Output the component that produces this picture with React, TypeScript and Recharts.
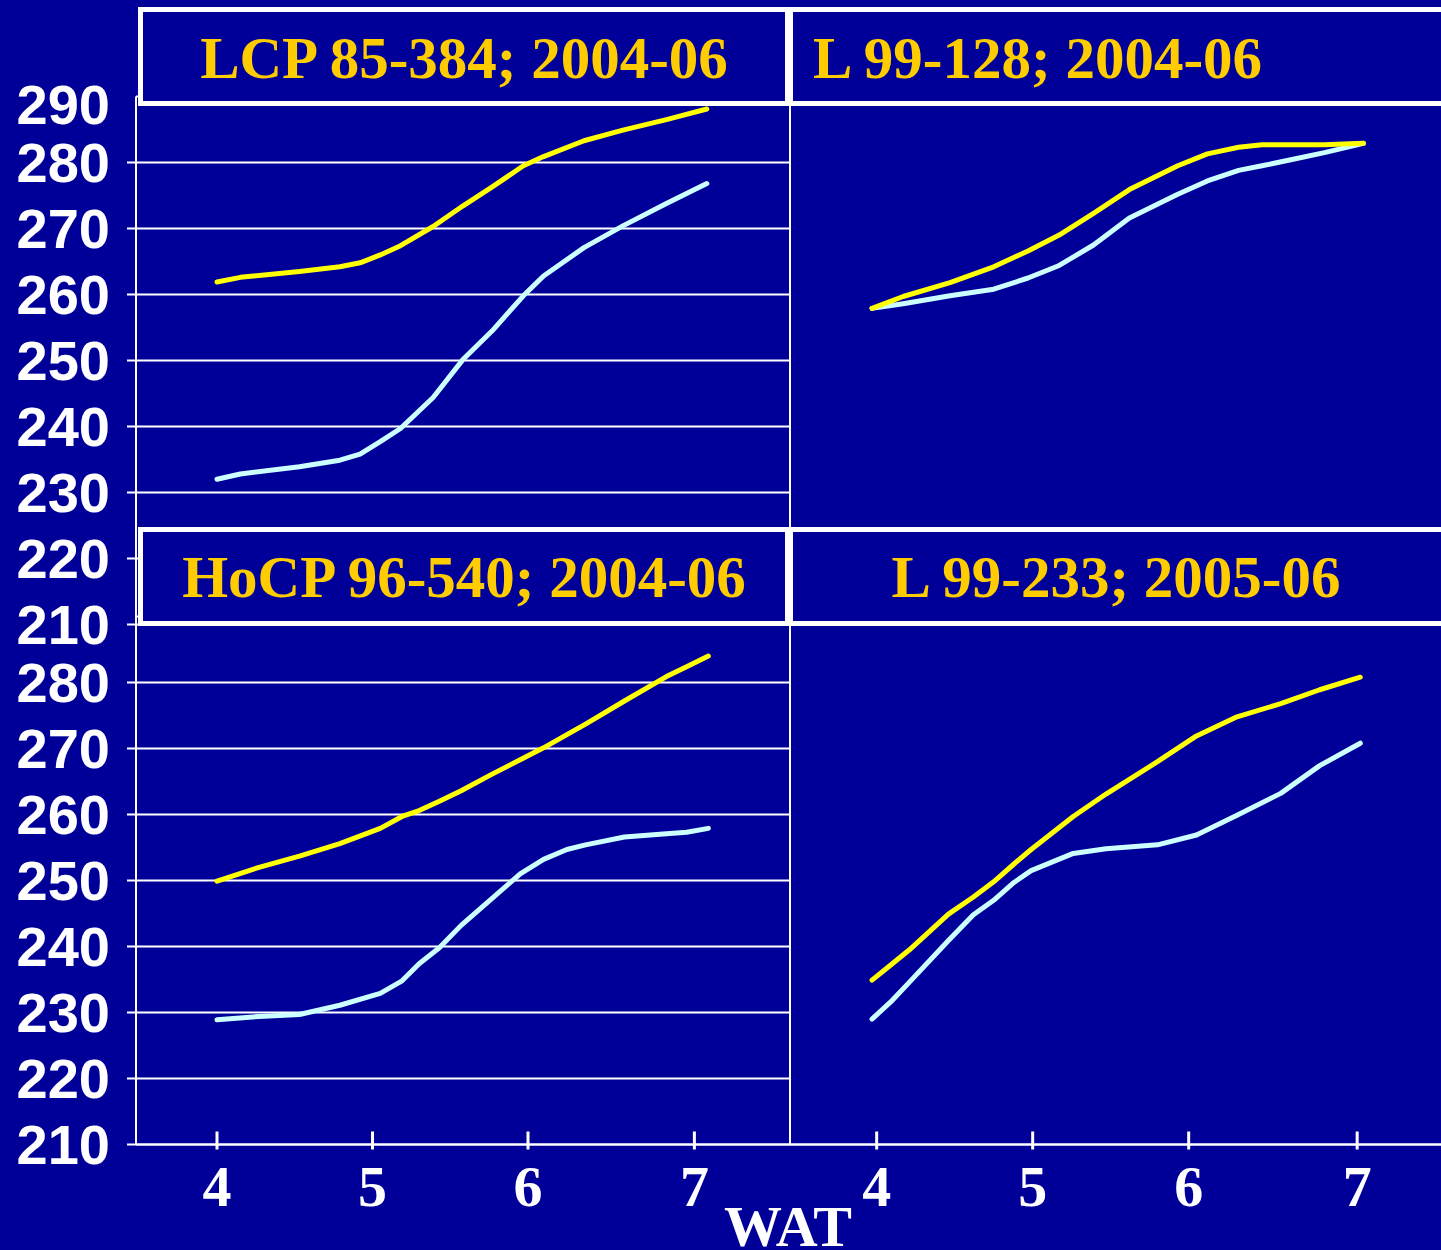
import { LineChart, Line, XAxis, YAxis, CartesianGrid } from "recharts";

const BG = "#000099";
const YELLOW = "#FFFF00";
const CYAN = "#CCFFFF";
const TITLE = "#FFCC00";
const SERIF = "'Liberation Serif', 'Times New Roman', serif";
const SANS = "'Liberation Sans', Arial, sans-serif";

// panel titles
const titles = ["LCP 85-384; 2004-06", "L 99-128; 2004-06", "HoCP 96-540; 2004-06", "L 99-233; 2005-06"];

// y ticks
const topTicks = [210, 220, 230, 240, 250, 260, 270, 280, 290];
const bottomTicks = [210, 220, 230, 240, 250, 260, 270, 280];

// x ticks (WAT), placed where the marks sit in the picture
const leftWatTicks = [4, 5, 6, 7.07];
const rightWatTicks = [4.03, 5.03, 6.03, 7.11];

// LCP 85-384
const lcpWat = [4.0, 4.15, 4.53, 4.79, 4.92, 5.05, 5.18, 5.39, 5.58, 5.77, 5.97, 6.1, 6.36, 6.61, 6.89, 7.15];
const lcpYellow = [261.9, 262.6, 263.5, 264.2, 264.8, 266.0, 267.4, 270.3, 273.4, 276.3, 279.5, 280.9, 283.3, 284.9, 286.5, 288.1];
const lcpCyan = [232.0, 232.8, 233.9, 234.9, 235.8, 237.7, 239.7, 244.4, 250.1, 254.5, 259.8, 262.8, 267.1, 270.4, 273.8, 276.8];

// L 99-128
const l128Wat = [4.0, 4.2, 4.5, 4.78, 5.0, 5.2, 5.42, 5.65, 5.96, 6.15, 6.35, 6.5, 6.7, 6.9, 7.15];
const l128Yellow = [257.9, 259.7, 261.8, 264.2, 266.6, 269.0, 272.3, 275.9, 279.5, 281.3, 282.3, 282.7, 282.7, 282.7, 282.9];
const l128Cyan = [257.9, 258.6, 259.8, 260.8, 262.5, 264.4, 267.5, 271.6, 275.2, 277.2, 278.8, 279.5, 280.5, 281.5, 282.9];

// HoCP 96-540
const hocpWat = [4.0, 4.27, 4.53, 4.79, 5.05, 5.19, 5.3, 5.43, 5.57, 5.76, 5.95, 6.1, 6.25, 6.37, 6.62, 6.89, 7.02, 7.16];
const hocpYellow = [249.9, 252.0, 253.7, 255.6, 257.9, 259.7, 260.6, 262.0, 263.6, 266.0, 268.3, 270.1, 272.1, 273.7, 277.2, 280.9, 282.4, 284.0];
const hocpCyan = [228.9, 229.4, 229.7, 231.1, 232.9, 234.8, 237.4, 239.8, 243.2, 247.1, 251.0, 253.2, 254.7, 255.4, 256.6, 257.1, 257.3, 257.9];

// L 99-233
const l233Wat = [4.0, 4.12, 4.24, 4.49, 4.65, 4.78, 4.91, 5.02, 5.29, 5.5, 5.83, 6.08, 6.34, 6.62, 6.87, 7.13];
const l233Yellow = [234.9, 237.2, 239.5, 244.9, 247.5, 249.8, 252.5, 254.7, 259.7, 263.1, 268.0, 271.9, 274.8, 276.8, 278.9, 280.8];
const l233Cyan = [229.0, 231.6, 234.6, 240.9, 244.8, 247.0, 249.7, 251.5, 254.1, 254.8, 255.4, 256.9, 259.9, 263.2, 267.4, 270.8];

const rows = (wat: number[], yellow: number[], cyan: number[]) =>
  wat.map((w, i) => ({ wat: w, yellow: yellow[i], cyan: cyan[i] }));

const LEFT_DOMAIN: [number, number] = [3.4791, 7.6849];
const RIGHT_DOMAIN: [number, number] = [3.4744, 7.6474];

function YTick(props: any) {
  const { x, y, payload } = props;
  const v = payload.value;
  return (
    <g>
      {v !== 290 && <line x1={x + 17} x2={x + 26} y1={y} y2={y} stroke="#fff" strokeWidth={2} />}
      <text
        x={x}
        y={y + (v === 290 ? 8 : 0)}
        dy="0.355em"
        textAnchor="end"
        fill="#fff"
        fontFamily={SANS}
        fontWeight="bold"
        fontSize={56}
      >
        {v}
      </text>
    </g>
  );
}

function XTick(props: any) {
  const { x, y, payload } = props;
  return (
    <g>
      <line x1={x} x2={x} y1={y - 13} y2={y + 5} stroke="#fff" strokeWidth={3} />
      <text x={x} y={y + 61} textAnchor="middle" fill="#fff" fontFamily={SERIF} fontWeight="bold" fontSize={58}>
        {Math.round(payload.value)}
      </text>
    </g>
  );
}

function Panel({
  data,
  left,
  top,
  width,
  height,
  margin,
  yAxisWidth,
  domain,
  yTicks,
  xTicks,
  showX,
}: any) {
  return (
    <div style={{ position: "absolute", left, top }}>
      <LineChart width={width} height={height} data={data} margin={margin} style={{ overflow: "visible" }}>
        <CartesianGrid vertical={false} stroke="#fff" strokeWidth={2} />
        <XAxis
          dataKey="wat"
          type="number"
          domain={domain}
          allowDataOverflow
          ticks={xTicks}
          hide={!showX}
          height={100}
          axisLine={{ stroke: "#fff", strokeWidth: 2 }}
          tickLine={false}
          tickSize={0}
          tickMargin={0}
          tick={XTick}
          interval={0}
        />
        <YAxis
          type="number"
          domain={[210, 290]}
          allowDataOverflow
          ticks={yTicks}
          width={yAxisWidth}
          axisLine={{ stroke: "#fff", strokeWidth: 2 }}
          tickLine={false}
          tickSize={9}
          tickMargin={17}
          tick={yAxisWidth > 10 ? YTick : false}
          interval={0}
        />
        <Line
          type="linear"
          dataKey="cyan"
          stroke={CYAN}
          strokeWidth={5}
          strokeLinecap="round"
          strokeLinejoin="round"
          dot={false}
          isAnimationActive={false}
        />
        <Line
          type="linear"
          dataKey="yellow"
          stroke={YELLOW}
          strokeWidth={5}
          strokeLinecap="round"
          strokeLinejoin="round"
          dot={false}
          isAnimationActive={false}
        />
      </LineChart>
    </div>
  );
}

export default function App() {
  const topMargin = { top: 96.5, right: 0, bottom: 35.5, left: 0 };
  const bottomMargin = { top: 16.5, right: 0, bottom: 5.5, left: 0 };

  return (
    <div style={{ position: "absolute", left: 0, top: 0, width: 1441, height: 1250, background: BG, overflow: "hidden" }}>
      <Panel
        data={rows(lcpWat, lcpYellow, lcpCyan)}
        left={0}
        top={0}
        width={790}
        height={660}
        margin={topMargin}
        yAxisWidth={136}
        domain={LEFT_DOMAIN}
        yTicks={topTicks}
        xTicks={leftWatTicks}
        showX={false}
      />
      <Panel
        data={rows(l128Wat, l128Yellow, l128Cyan)}
        left={789}
        top={0}
        width={652}
        height={660}
        margin={topMargin}
        yAxisWidth={1}
        domain={RIGHT_DOMAIN}
        yTicks={topTicks}
        xTicks={rightWatTicks}
        showX={false}
      />
      <Panel
        data={rows(hocpWat, hocpYellow, hocpCyan)}
        left={0}
        top={600}
        width={790}
        height={650}
        margin={bottomMargin}
        yAxisWidth={136}
        domain={LEFT_DOMAIN}
        yTicks={bottomTicks}
        xTicks={leftWatTicks}
        showX
      />
      <Panel
        data={rows(l233Wat, l233Yellow, l233Cyan)}
        left={789}
        top={600}
        width={652}
        height={650}
        margin={bottomMargin}
        yAxisWidth={1}
        domain={RIGHT_DOMAIN}
        yTicks={bottomTicks}
        xTicks={rightWatTicks}
        showX
      />

      {/* title boxes and axis caption sit on top of the charts */}
      <svg width={1441} height={1250} style={{ position: "absolute", left: 0, top: 0, pointerEvents: "none" }}>
        <g fill={BG} stroke="#fff" strokeWidth={5}>
          <rect x={140.5} y={9.5} width={647} height={94} />
          <rect x={790.5} y={9.5} width={657} height={94} />
          <rect x={140.5} y={529.5} width={647} height={94} />
          <rect x={790.5} y={529.5} width={657} height={94} />
        </g>
        <g fill={TITLE} fontFamily={SERIF} fontWeight="bold" fontSize={59}>
          <text x={464} y={78} textAnchor="middle">{titles[0]}</text>
          <text x={813} y={78} textAnchor="start">{titles[1]}</text>
          <text x={464} y={597} textAnchor="middle">{titles[2]}</text>
          <text x={1116} y={597} textAnchor="middle">{titles[3]}</text>
        </g>
        <text x={788} y={1246} textAnchor="middle" fill="#fff" fontFamily={SERIF} fontWeight="bold" fontSize={58}>
          WAT
        </text>
      </svg>
    </div>
  );
}
